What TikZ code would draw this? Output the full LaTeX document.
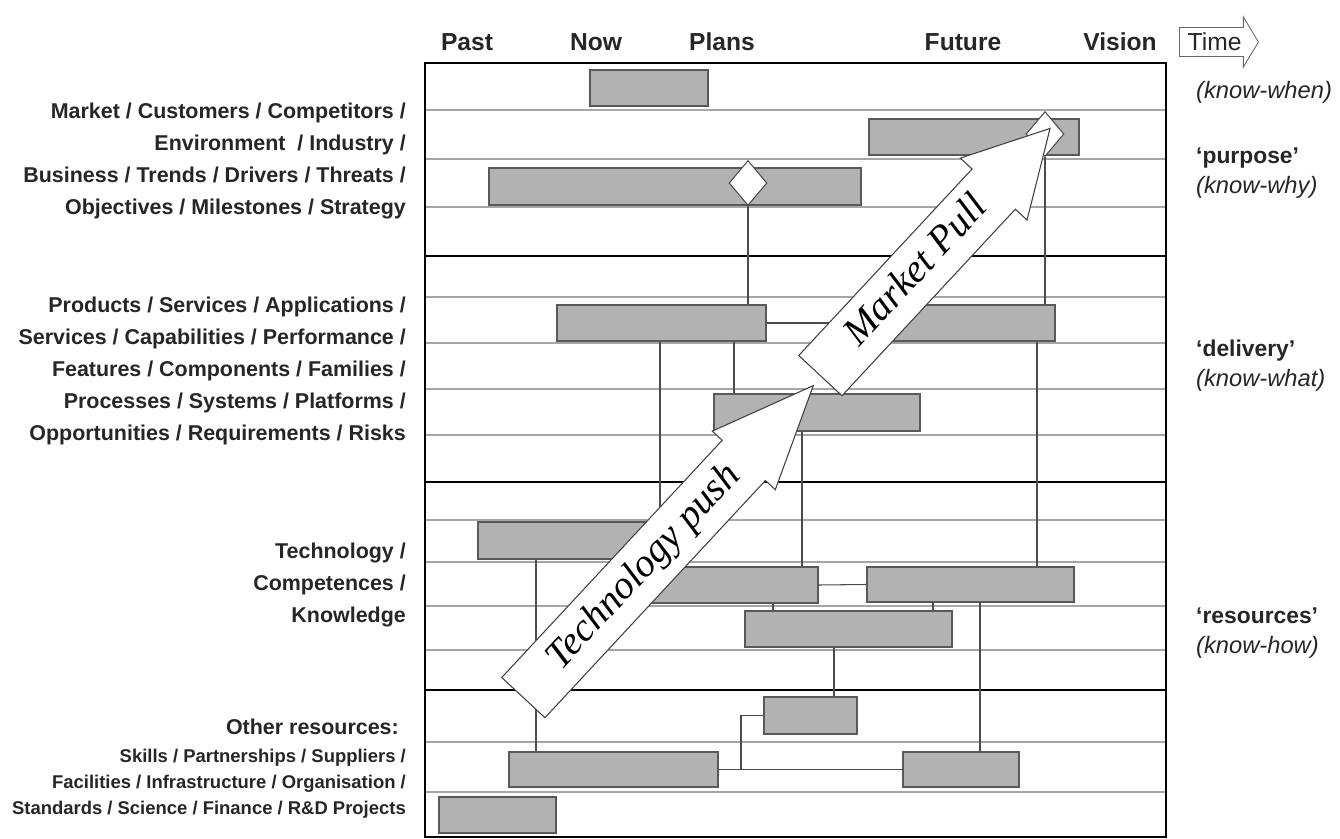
\documentclass[tikz,border=0pt]{standalone}
\usepackage{fontspec}
\setmainfont{Liberation Sans}
\newfontfamily\arrowfont{Liberation Serif}
\usetikzlibrary{shapes.geometric}
\usetikzlibrary{shapes.arrows, fit}
\usetikzlibrary{arrows,calc}

\begin{document}
\begin{tikzpicture} [
       x=0.02cm, y=-0.02cm,
       bar/.style={draw=black!65, fill=gray!60, line width=0.6pt, inner sep=0pt},
       milestone/.style={diamond, draw=black!70, fill=white, line width=0.6pt,
               minimum width=0.76cm, minimum height=0.9cm, inner sep=0pt},
       link/.style={draw=black!70, line width=0.6pt},
       rowline/.style={draw=gray!70, line width=1pt},
       divider/.style={draw=black, line width=1.6pt},
       bigarrow/.style={single arrow, draw=black!75, fill=white, line width=0.6pt,
               anchor=tail, rotate=47.1, text height=15pt, text depth=4pt,
               inner ysep=7pt, inner xsep=2pt,
               font=\arrowfont\itshape\fontsize{22.5}{24}\selectfont},
       period/.style={text=black!85, font=\bfseries\fontsize{14}{16}\selectfont},
       layer/.style={anchor=east, align=right, text=black!85,
               font=\bfseries\fontsize{12.2}{18.2}\selectfont},
       small/.style={anchor=east, align=right, text=black!85,
               font=\bfseries\fontsize{10.5}{14.8}\selectfont},
       know/.style={anchor=west, align=left, text=black!85,
               font=\fontsize{13.5}{17}\selectfont},
       ]
       \useasboundingbox (0,0) rectangle (1340,839);

       % rows
       \foreach \y in {110,159,207,297,343,389,435,520,562,606,650,742,792}
         \draw[rowline] (425,\y) -- (1166,\y);
       \foreach \y in {256,482,690}
         \draw[divider] (425,\y) -- (1166,\y);
       \node (frame) [draw, line width=1.6pt, inner sep=0pt, fit={(425,63) (1166,837)}] {};

       % time axis
       \node (past) [period] at (467,42) {Past};
       \node (now) [period] at (596,42) {Now};
       \node (plans) [period] at (722,42) {Plans};
       \node (future) [period] at (963,42) {Future};
       \node (vision) [period] at (1120,42) {Vision};
       \node (time) [single arrow, draw=black!60, line width=0.5pt, anchor=tail,
               minimum height=1.58cm, single arrow tip angle=118,
               single arrow head extend=0.21cm, text height=10pt, text depth=0pt,
               inner ysep=3pt, inner xsep=1pt, text=black!85,
               font=\fontsize{14}{16}\selectfont] at (1179,42) {Time};

       % bars
       \node (mkt1) [bar, fit={(590,70) (708,106)}] {};
       \node (mkt2) [bar, fit={(869,119) (1079,155)}] {};
       \node (mkt3) [bar, fit={(489,168) (861,205)}] {};
       \node (prd1) [bar, fit={(557,305) (766,341)}] {};
       \node (prd2) [bar, fit={(860,305) (1055,341)}] {};
       \node (prd3) [bar, fit={(714,394) (920,431)}] {};
       \node (tec1) [bar, fit={(478,522) (660,559)}] {};
       \node (tec2) [bar, fit={(640,567) (818,603)}] {};
       \node (tec3) [bar, fit={(867,567) (1074,602)}] {};
       \node (tec4) [bar, fit={(745,611) (952,647)}] {};
       \node (oth1) [bar, fit={(764,697) (857,734)}] {};
       \node (oth2) [bar, fit={(509,752) (718,787)}] {};
       \node (oth3) [bar, fit={(903,752) (1019,787)}] {};
       \node (oth4) [bar, fit={(439,797) (556,833)}] {};
       \node (ms1) [milestone] at (748,183) {};
       \node (ms2) [milestone] at (1045,134) {};

       % links
       \coordinate (ca) at (660,0);
       \coordinate (cb) at (734,0);
       \coordinate (cc) at (802,0);
       \coordinate (cd) at (1037,0);
       \coordinate (ce) at (536,0);
       \coordinate (cf) at (773,0);
       \coordinate (cg) at (933,0);
       \coordinate (ch) at (834,0);
       \coordinate (ci) at (980,0);
       \coordinate (cj) at (741,0);
       \begin{scope}[every path/.style=link]
       \path (ms1.south) -- (ms1.south |- prd1.north);
       \path (ms2.south) -- (ms2.south |- prd2.north);
       \path (prd1.east) -- (prd2.west);
       \path (prd1.south -| ca) -- (tec2.north -| ca);
       \path (prd1.south -| cb) -- (prd3.north -| cb);
       \path (prd3.south -| cc) -- (tec2.north -| cc);
       \path (prd2.south -| cd) -- (tec3.north -| cd);
       \path (tec1.south -| ce) -- (oth2.north -| ce);
       \path (tec2.east) -- (tec3.west);
       \path (tec2.south -| cf) -- (tec4.north -| cf);
       \path (tec3.south -| cg) -- (tec4.north -| cg);
       \path (tec4.south -| ch) -- (oth1.north -| ch);
       \path (tec3.south -| ci) -- (oth3.north -| ci);
       \path (oth2.east) -- (oth3.west);
       \path (oth1.west) -| (oth2.east -| cj);
       \end{scope}

       % push and pull
       \node (push) [bigarrow, minimum height=8.52cm, single arrow tip angle=45.7,
               single arrow head extend=0.27cm] at (523,698) {Technology push};
       \node (pull) [bigarrow, minimum height=6.75cm, single arrow tip angle=57.6,
               single arrow head extend=0.32cm] at (820,376) {Market Pull};

       % layers
       \node (purpose) [layer] at (412,161) {Market / Customers / Competitors /\\
               Environment \ / Industry /\\Business / Trends / Drivers / Threats /\\
               Objectives / Milestones / Strategy};
       \node (delivery) [layer] at (412,371) {Products / Services / Applications /\\
               Services / Capabilities / Performance /\\Features / Components / Families /\\
               Processes / Systems / Platforms /\\Opportunities / Requirements / Risks};
       \node (resources) [layer] at (412,585) {Technology /\\Competences /\\Knowledge};
       \node (other) [layer] at (405,727) {Other resources:};
       \node (otherlist) [small] at (412,784) {Skills / Partnerships / Suppliers /\\
               Facilities / Infrastructure / Organisation /\\
               Standards / Science / Finance / R\&D Projects};

       \node (when) [know] at (1190,92) {\itshape (know-when)};
       \node (why) [know] at (1190,173) {{\bfseries\fontsize{13}{17}\selectfont ‘purpose’}\\\itshape (know-why)};
       \node (what) [know] at (1190,366) {{\bfseries\fontsize{13}{17}\selectfont ‘delivery’}\\\itshape (know-what)};
       \node (how) [know] at (1190,633) {{\bfseries\fontsize{13}{17}\selectfont ‘resources’}\\\itshape (know-how)};
\end{tikzpicture}
\end{document}
